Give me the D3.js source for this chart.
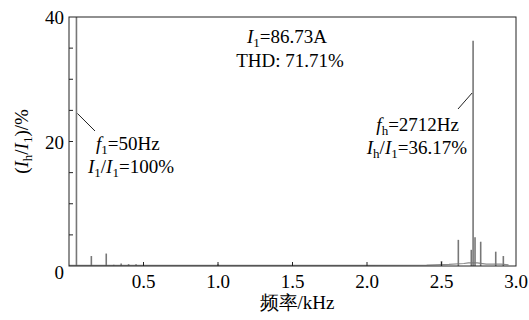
<!DOCTYPE html>
<html>
<head>
<meta charset="utf-8">
<script src="https://cdn.jsdelivr.net/npm/d3@7"></script>
<style>
  body { margin: 0; background: #fff; }
</style>
</head>
<body>
<div id="chart"></div>
<script>
// spectrum peaks: frequency (kHz) and amplitude (% of I1)
const peakFreq  = [0.05, 0.15, 0.25, 0.30, 0.35, 0.40, 0.45, 1.00, 2.50, 2.613, 2.70, 2.712, 2.725, 2.763, 2.864, 2.915];
const peakValue = [100,  1.6,  2.0,  0.2,  0.4,  0.3,  0.3,  0.3,  0.8,  4.2,   2.6,  36.17, 4.6,   3.9,   2.3,   1.6];
// baseline floor (kHz, %)
const floorFreq  = [0.0, 0.5, 1.0, 1.5, 2.0, 2.4, 2.55, 2.65, 2.68, 2.74, 2.80, 2.85, 2.90, 2.95];
const floorValue = [0.1, 0.1, 0.1, 0.1, 0.1, 0.15, 0.25, 0.4, 0.5, 0.5, 0.3, 0.3, 0.3, 0.2];

const xTicks = [0.5, 1.0, 1.5, 2.0, 2.5, 3.0];
const yTicks = [5, 10, 15, 20, 25, 30, 35];
const yLabels = [20, 40];

const width = 529, height = 320;
const margin = { left: 69, right: 13, top: 17, bottom: 54 };
const font = "'Liberation Serif', 'Times New Roman', serif";
const fs = 19;

const svg = d3.select("#chart").append("svg")
    .attr("width", width)
    .attr("height", height)
    .attr("font-family", font);

const x = d3.scaleLinear().domain([0, 3]).range([margin.left, width - margin.right]);
const y = d3.scaleLinear().domain([0, 40]).range([height - margin.bottom, margin.top]);

svg.append("clipPath").attr("id", "clip")
    .append("rect")
    .attr("x", x(0)).attr("y", y(40))
    .attr("width", x(3) - x(0)).attr("height", y(0) - y(40));

const plot = svg.append("g").attr("clip-path", "url(#clip)");

// noise floor
plot.append("path")
    .datum(floorFreq.map((f, i) => [f, floorValue[i]]))
    .attr("d", d3.line().x(d => x(d[0])).y(d => y(d[1])))
    .attr("fill", "none")
    .attr("stroke", "#8a8a8a")
    .attr("stroke-width", 1.2);

// harmonic spikes
plot.selectAll("line.spike")
    .data(peakFreq.map((f, i) => [f, peakValue[i]]))
    .join("line")
    .attr("class", "spike")
    .attr("x1", d => x(d[0])).attr("x2", d => x(d[0]))
    .attr("y1", y(0)).attr("y2", d => y(d[1]))
    .attr("stroke", "#777")
    .attr("stroke-width", 1.6);

// frame
svg.append("rect")
    .attr("x", x(0)).attr("y", y(40))
    .attr("width", x(3) - x(0)).attr("height", y(0) - y(40))
    .attr("fill", "none").attr("stroke", "#222").attr("stroke-width", 1);

// ticks (inward)
svg.append("g").selectAll("line")
    .data(yTicks)
    .join("line")
    .attr("x1", x(0)).attr("x2", x(0) + 4)
    .attr("y1", d => y(d)).attr("y2", d => y(d))
    .attr("stroke", "#222");

svg.append("g").selectAll("line")
    .data(xTicks.slice(0, -1))
    .join("line")
    .attr("x1", d => x(d)).attr("x2", d => x(d))
    .attr("y1", y(0)).attr("y2", y(0) - 4)
    .attr("stroke", "#222");

// tick labels
svg.append("g").selectAll("text")
    .data(yLabels)
    .join("text")
    .attr("x", x(0) - 5).attr("y", d => y(d) + 7)
    .attr("text-anchor", "end")
    .attr("font-size", fs)
    .text(d => d);

svg.append("text")
    .attr("x", x(0) - 5).attr("y", y(0) + 13)
    .attr("text-anchor", "end")
    .attr("font-size", fs)
    .text("0");

svg.append("g").selectAll("text")
    .data(xTicks)
    .join("text")
    .attr("x", d => x(d)).attr("y", y(0) + 22)
    .attr("text-anchor", "middle")
    .attr("font-size", fs)
    .text(d => d.toFixed(1));

// axis titles
svg.append("text")
    .attr("x", 297).attr("y", height - 11)
    .attr("text-anchor", "middle")
    .attr("font-size", fs)
    .text("频率/kHz");

const yt = svg.append("text")
    .attr("transform", `translate(28, ${(y(0) + y(40)) / 2}) rotate(-90)`)
    .attr("text-anchor", "middle")
    .attr("font-size", fs);
yt.append("tspan").text("(");
yt.append("tspan").attr("font-style", "italic").text("I");
yt.append("tspan").attr("font-size", 13).attr("dy", 4).text("h");
yt.append("tspan").attr("dy", -4).text("/");
yt.append("tspan").attr("font-style", "italic").text("I");
yt.append("tspan").attr("font-size", 13).attr("dy", 4).text("1");
yt.append("tspan").attr("dy", -4).text(")/%");

// rich text helper: parts = [[text, style]], style: "i" italic, "s" subscript
function rich(xp, yp, anchor, parts) {
    const t = svg.append("text")
        .attr("x", xp).attr("y", yp)
        .attr("text-anchor", anchor)
        .attr("font-size", fs);
    let sub = false;
    parts.forEach(([s, st]) => {
        const ts = t.append("tspan").text(s);
        if (st === "i") ts.attr("font-style", "italic");
        if (st === "s") {
            ts.attr("font-size", 13).attr("dy", sub ? 0 : 4);
            sub = true;
        } else if (sub) {
            ts.attr("dy", -4);
            sub = false;
        }
    });
    return t;
}

rich(287, 43, "middle", [["I", "i"], ["1", "s"], ["=86.73A"]]);
rich(290, 67, "middle", [["THD: 71.71%"]]);

rich(96, 150, "start", [["f", "i"], ["1", "s"], ["=50Hz"]]);
rich(88, 173, "start", [["I", "i"], ["1", "s"], ["/"], ["I", "i"], ["1", "s"], ["=100%"]]);

rich(459, 131, "end", [["f", "i"], ["h", "s"], ["=2712Hz"]]);
rich(467, 154, "end", [["I", "i"], ["h", "s"], ["/"], ["I", "i"], ["1", "s"], ["=36.17%"]]);

// leader lines
svg.append("line")
    .attr("x1", x(0.05) + 1).attr("y1", y(24.5))
    .attr("x2", 95).attr("y2", 131)
    .attr("stroke", "#222");
svg.append("line")
    .attr("x1", 458).attr("y1", 109)
    .attr("x2", x(2.712) - 1).attr("y2", 93)
    .attr("stroke", "#222");
</script>
</body>
</html>
